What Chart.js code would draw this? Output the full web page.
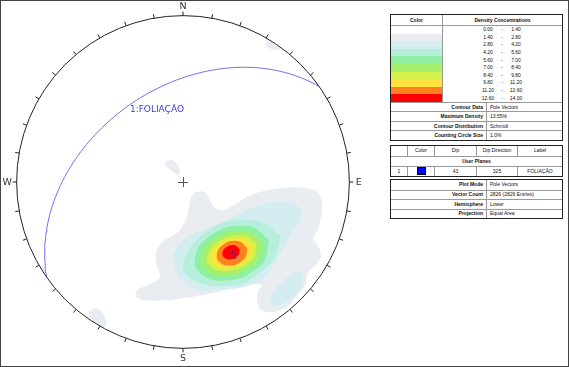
<!DOCTYPE html>
<html>
<head>
<meta charset="utf-8">
<script src="https://cdn.jsdelivr.net/npm/chart.js"></script>
<style>
html, body { margin: 0; padding: 0; background: #fff; }
#frame { position: absolute; left: 0; top: 0; width: 569px; height: 367px; box-sizing: border-box; border: 1px solid #444; }
#net { position: absolute; left: 0; top: 0; }
.box { position: absolute; left: 390px; width: 173px; box-sizing: border-box; border: 1px solid #222;
       font-family: "Liberation Sans", Arial, sans-serif; font-size: 5px; color: #111; background: #fff; }
.row { display: flex; box-sizing: border-box; }
.row + .line { border-top: 1px solid #999; }
.cell { box-sizing: border-box; display: flex; align-items: center; line-height: 1; white-space: nowrap; overflow: hidden; }
.cc { justify-content: center; }
.b { font-weight: bold; }
.sep { border-right: 1px solid #999; }
.k { width: 96px; justify-content: flex-end; padding-right: 3px; font-weight: bold; border-right: 1px solid #999; }
.v { flex: 1; padding-left: 3px; }
.rng span { display: inline-block; text-align: center; }
</style>
</head>
<body>
<div id="frame"></div>
<canvas id="net" width="366" height="366"></canvas>
<div class="box" id="t1" style="top:14px;"></div>
<div class="box" id="t2" style="top:145px;"></div>
<div class="box" id="t3" style="top:179px;"></div>

<script>
// density legend
const levelLow  = [0.00, 1.40, 2.80, 4.20, 5.60, 7.00, 8.40, 9.80, 11.20, 12.60];
const levelHigh = [1.40, 2.80, 4.20, 5.60, 7.00, 8.40, 9.80, 11.20, 12.60, 14.00];
const levelColors = ['#ffffff', '#e9edf2', '#d3edf1', '#b6efdc', '#90f0a2', '#a6f06c', '#d4f04a', '#ffe23c', '#ff801e', '#ff0000'];

const contourInfoLabels = ['Contour Data', 'Maximum Density', 'Contour Distribution', 'Counting Circle Size'];
const contourInfoValues = ['Pole Vectors', '13.55%', 'Schmidt', '1.0%'];

// user planes
const planeIds = [1];
const planeDips = [43];
const planeDipDirs = [325];
const planeLabels = ['FOLIAÇÃO'];
const planeColors = ['#0000ff'];

const plotInfoLabels = ['Plot Mode', 'Vector Count', 'Hemisphere', 'Projection'];
const plotInfoValues = ['Pole Vectors', '2826 (2826 Entries)', 'Lower', 'Equal Area'];

// net ticks (azimuth, degrees)
const tickAz = [0, 10, 20, 30, 40, 50, 60, 70, 80, 90, 100, 110, 120, 130, 140, 150, 160, 170,
                180, 190, 200, 210, 220, 230, 240, 250, 260, 270, 280, 290, 300, 310, 320, 330, 340, 350];
const compassAz = [0, 90, 180, 270];
const compassLabels = ['N', 'E', 'S', 'W'];

// contour polygons, net coordinates (radius = 100)
const gray1 = [[4.8,-9.0],[7.8,-6.0],[12.7,-6.0],[15.7,-9.6],[18.7,-15.1],[23.5,-16.9],[29.5,-14.5],[36.1,-10.2],
  [44.0,-6.6],[54.2,-4.2],[65.7,-3.0],[76.5,-4.2],[81.9,-7.2],[83.7,-12.0],[83.1,-20.5],[81.3,-28.3],[78.3,-33.7],
  [81.3,-38.6],[83.1,-44.6],[80.1,-49.4],[75.3,-54.2],[73.5,-62.0],[68.1,-68.7],[62.7,-75.3],[53.6,-78.3],[47.0,-77.1],
  [44.6,-71.1],[45.2,-65.1],[47.6,-62.0],[40.4,-61.4],[29.5,-63.9],[17.5,-66.9],[4.2,-69.3],[-10.8,-71.1],[-22.9,-71.1],
  [-28.3,-68.7],[-27.1,-64.5],[-19.9,-61.4],[-13.9,-57.2],[-15.7,-50.0],[-16.3,-42.2],[-12.0,-35.5],[-3.0,-30.1],
  [1.8,-22.9],[3.6,-15.1]];
const gray2 = [[-10.2,12.0],[-6.6,13.3],[-3.6,10.8],[-1.8,6.6],[-3.0,4.2],[-6.0,6.0],[-9.0,8.4],[-10.8,10.2]];
const gray3 = [[49.4,82.5],[51.2,84.9],[55.5,82.6],[59.0,80.1],[54.8,79.5],[51.2,80.7]];
const gray4 = [[-56.6,-77.1],[-51.8,-75.9],[-48.2,-78.9],[-45.8,-84.9],[-47.6,-87.6],[-52.0,-85.0],[-56.0,-81.9]];
const cyan1 = [[-6.0,-42.8],[-1.8,-36.7],[6.0,-31.3],[18.1,-27.1],[30.1,-21.1],[42.2,-15.1],[54.2,-12.0],[65.7,-12.7],
  [71.1,-16.9],[70.5,-22.9],[66.3,-29.5],[62.0,-36.1],[58.4,-43.4],[54.2,-50.6],[46.4,-59.5],[34.3,-63.5],
  [22.3,-64.5],[10.2,-65.0],[0.6,-60.6],[-4.8,-51.8]];
const cyan2 = [[67.5,-54.2],[71.7,-54.2],[71.7,-60.8],[66.3,-69.3],[58.4,-74.1],[53.6,-74.1],[52.4,-69.3],[56.6,-63.3],[62.7,-57.2]];
const mint = [[58.9,-32.1],[46.2,-24.0],[23.0,-24.5],[4.6,-39.1],[0.1,-53.5],[12.8,-61.6],[36.0,-61.0],[54.4,-46.5]];
const lgreen = [[51.6,-34.8],[41.3,-26.7],[24.1,-28.0],[10.1,-38.0],[7.4,-50.8],[17.7,-58.9],[34.9,-57.6],[48.9,-47.6]];
const green = [[47.6,-36.2],[39.3,-29.7],[25.2,-30.9],[13.7,-39.1],[11.4,-49.4],[19.7,-55.9],[33.8,-54.7],[45.3,-46.5]];
const ygreen = [[44.3,-37.4],[37.5,-32.2],[26.0,-33.2],[16.6,-39.8],[14.7,-48.2],[21.5,-53.4],[33.0,-52.4],[42.4,-45.8]];
const yellow = [[42.0,-38.3],[36.3,-34.0],[26.6,-34.9],[18.6,-40.4],[17.0,-47.3],[22.7,-51.6],[32.4,-50.7],[40.4,-45.2]];
const orange = [[38.5,-39.5],[34.1,-35.7],[27.0,-36.0],[21.4,-40.3],[20.5,-46.1],[24.9,-49.9],[32.0,-49.6],[37.6,-45.3]];
const red = [[34.0,-40.4],[31.5,-38.1],[27.5,-38.3],[24.3,-40.7],[23.8,-44.0],[26.3,-46.3],[30.3,-46.1],[33.5,-43.7]];

// [level index, polygon]
const contours = [[1, gray1], [1, gray2], [1, gray3], [1, gray4], [2, cyan1], [2, cyan2], [3, mint],
                  [4, lgreen], [5, green], [6, ygreen], [7, yellow], [8, orange], [9, red]];

// ---------- tables ----------
const fmt = v => v.toFixed(2);
let h = '<div class="row" style="height:11px;border-bottom:1px solid #999">' +
        '<div class="cell cc b sep" style="width:52px">Color</div>' +
        '<div class="cell cc b" style="flex:1">Density Concentrations</div></div>';
levelLow.forEach((lo, i) => {
  h += '<div class="row" style="height:7.6px">' +
       '<div class="cell sep" style="width:52px;background:' + levelColors[i] + '"></div>' +
       '<div class="cell rng" style="flex:1;padding-left:34px">' +
       '<span style="width:22px">' + fmt(lo) + '</span><span style="width:6px">-</span>' +
       '<span style="width:22px">' + fmt(levelHigh[i]) + '</span></div></div>';
});
contourInfoLabels.forEach((k, i) => {
  h += '<div class="row" style="height:9.5px;border-top:1px solid #999">' +
       '<div class="cell k">' + k + '</div><div class="cell v">' + contourInfoValues[i] + '</div></div>';
});
document.getElementById('t1').innerHTML = h;

h = '<div class="row" style="height:9.5px">' +
    '<div class="cell sep" style="width:17px"></div>' +
    '<div class="cell cc sep" style="width:27px">Color</div>' +
    '<div class="cell cc sep" style="width:42px">Dip</div>' +
    '<div class="cell cc sep" style="width:41px">Dip Direction</div>' +
    '<div class="cell cc" style="flex:1">Label</div></div>' +
    '<div class="row" style="height:10.5px;border-top:1px solid #999"><div class="cell cc b" style="flex:1">User Planes</div></div>';
planeIds.forEach((id, i) => {
  h += '<div class="row" style="height:9.5px;border-top:1px solid #999">' +
       '<div class="cell cc sep" style="width:17px">' + id + '</div>' +
       '<div class="cell cc sep" style="width:27px"><div style="width:7px;height:6px;background:' + planeColors[i] + ';border:1px solid #000"></div></div>' +
       '<div class="cell cc sep" style="width:42px">' + planeDips[i] + '</div>' +
       '<div class="cell cc sep" style="width:41px">' + planeDipDirs[i] + '</div>' +
       '<div class="cell cc" style="flex:1">' + planeLabels[i] + '</div></div>';
});
document.getElementById('t2').innerHTML = h;

h = '';
plotInfoLabels.forEach((k, i) => {
  h += '<div class="row" style="height:9.5px;' + (i ? 'border-top:1px solid #999' : '') + '">' +
       '<div class="cell k">' + k + '</div><div class="cell v">' + plotInfoValues[i] + '</div></div>';
});
document.getElementById('t3').innerHTML = h;

// ---------- stereonet ----------
const D2R = Math.PI / 180;

// lower hemisphere equal-area (Schmidt) projection, radius 100
function toNet(trend, plunge) {
  const r = 100 * Math.SQRT2 * Math.sin((90 - plunge) / 2 * D2R);
  return {x: r * Math.sin(trend * D2R), y: r * Math.cos(trend * D2R)};
}

function greatCircle(dip, dipDir) {
  const s = (dipDir - 90) * D2R, dd = dipDir * D2R, dp = dip * D2R;
  const S = [Math.sin(s), Math.cos(s), 0];
  const D = [Math.sin(dd) * Math.cos(dp), Math.cos(dd) * Math.cos(dp), Math.sin(dp)];
  const pts = [];
  for (let b = 0; b <= 180; b += 2) {
    const c = Math.cos(b * D2R), sn = Math.sin(b * D2R);
    const v = [c * S[0] + sn * D[0], c * S[1] + sn * D[1], c * S[2] + sn * D[2]];
    pts.push(toNet(Math.atan2(v[0], v[1]) / D2R, Math.asin(Math.min(1, v[2])) / D2R));
  }
  return pts;
}

const datasets = [];
planeIds.forEach((id, i) => {
  datasets.push({
    data: greatCircle(planeDips[i], planeDipDirs[i]),
    showLine: true, fill: false, borderColor: '#7070f0', borderWidth: 1,
    pointRadius: 0, order: 0
  });
});
contours.forEach(([lvl, poly]) => {
  datasets.push({
    data: poly.concat([poly[0]]).map(p => ({x: p[0], y: p[1]})),
    showLine: true, fill: 'shape', backgroundColor: levelColors[lvl], borderColor: levelColors[lvl],
    borderWidth: 0, pointRadius: 0, tension: 0.3, order: 20 - lvl
  });
});

const netPlugin = {
  id: 'net',
  beforeDatasetsDraw(chart) {
    const {ctx, scales: {x, y}} = chart;
    const cx = x.getPixelForValue(0), cy = y.getPixelForValue(0);
    const r = x.getPixelForValue(100) - cx;
    ctx.save();
    ctx.beginPath();
    ctx.arc(cx, cy, r, 0, 2 * Math.PI);
    ctx.clip();
  },
  afterDatasetsDraw(chart) {
    const {ctx, scales: {x, y}} = chart;
    ctx.restore();
    const cx = x.getPixelForValue(0), cy = y.getPixelForValue(0);
    const r = x.getPixelForValue(100) - cx;
    ctx.save();
    // primitive circle
    ctx.strokeStyle = '#222';
    ctx.lineWidth = 1;
    ctx.beginPath();
    ctx.arc(cx, cy, r, 0, 2 * Math.PI);
    ctx.stroke();
    // ticks
    ctx.beginPath();
    tickAz.forEach(a => {
      const s = Math.sin(a * D2R), c = Math.cos(a * D2R);
      ctx.moveTo(cx + r * s, cy - r * c);
      ctx.lineTo(cx + (r + 4) * s, cy - (r + 4) * c);
    });
    ctx.stroke();
    // compass labels
    ctx.fillStyle = '#333';
    ctx.font = '9.5px "DejaVu Sans", sans-serif';
    ctx.textAlign = 'center';
    ctx.textBaseline = 'middle';
    compassAz.forEach((a, i) => {
      const s = Math.sin(a * D2R), c = Math.cos(a * D2R);
      ctx.fillText(compassLabels[i], cx + (r + 9.5) * s, cy - (r + 9.5) * c + 0.5);
    });
    // centre cross
    ctx.strokeStyle = '#555';
    ctx.beginPath();
    ctx.moveTo(cx - 5, cy + 0.5); ctx.lineTo(cx + 5, cy + 0.5);
    ctx.moveTo(cx + 0.5, cy - 5); ctx.lineTo(cx + 0.5, cy + 5);
    ctx.stroke();
    // plane labels and poles
    planeIds.forEach((id, i) => {
      ctx.fillStyle = '#3c3cdc';
      ctx.font = '9px "DejaVu Sans", sans-serif';
      ctx.textAlign = 'left';
      ctx.fillText(id + ':' + planeLabels[i], x.getPixelForValue(-31.9), y.getPixelForValue(43.4));
      const p = toNet(planeDipDirs[i] - 180, 90 - planeDips[i]);
      const px = x.getPixelForValue(p.x), py = y.getPixelForValue(p.y);
      ctx.fillStyle = '#4a22a8';
      ctx.fillRect(px - 0.5, py - 2, 1.2, 3);
      ctx.font = '7px "DejaVu Sans", sans-serif';
      ctx.textAlign = 'center';
      ctx.fillText(String(id), px + 2.5, py + 5);
    });
    ctx.restore();
  }
};

new Chart(document.getElementById('net'), {
  type: 'scatter',
  data: {datasets: datasets},
  options: {
    responsive: false,
    animation: false,
    layout: {padding: 0},
    scales: {
      x: {type: 'linear', display: false, min: -110, max: 110},
      y: {type: 'linear', display: false, min: -110.6, max: 109.4}
    },
    plugins: {legend: {display: false}, tooltip: {enabled: false}}
  },
  plugins: [netPlugin]
});
</script>
</body>
</html>
